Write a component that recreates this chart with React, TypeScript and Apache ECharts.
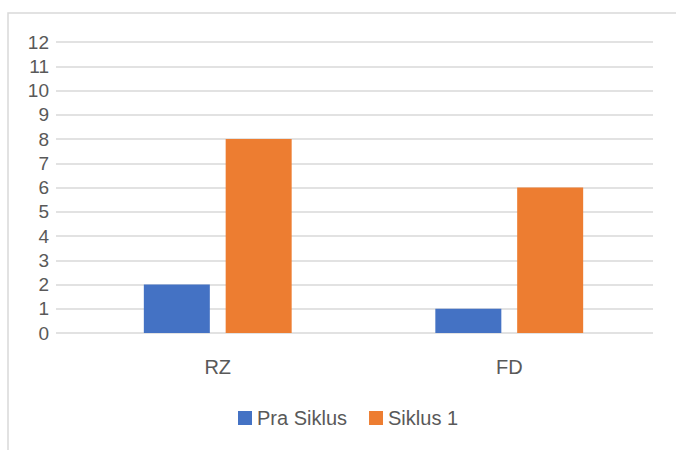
import React, { useEffect, useRef } from "react";
import * as echarts from "echarts";

const categories = ["RZ", "FD"];
const praSiklus = [2, 1];
const siklus1 = [8, 6];
const seriesNames = ["Pra Siklus", "Siklus 1"];
const yTicks = { min: 0, max: 12, interval: 1 };

export default function App() {
  const ref = useRef<HTMLDivElement>(null);
  useEffect(() => {
    if (!ref.current) return;
    const chart = echarts.init(ref.current, null, { renderer: "svg" });
    const font = "Liberation Sans";
    const textColor = "#595959";
    chart.setOption({
      animation: false,
      textStyle: { fontFamily: font },
      graphic: [
        {
          type: "rect",
          shape: { x: 8, y: 13, width: 720, height: 500 },
          style: { fill: "none", stroke: "#D9D9D9", lineWidth: 1.5 },
          z: -1,
        },
      ],
      grid: [
        { left: 56, right: 23, top: 42, bottom: 450 - 333 },
        { left: 72, right: 21, top: 42, bottom: 450 - 333 },
      ],
      legend: {
        data: seriesNames,
        bottom: 17,
        left: 233,
        itemWidth: 14,
        itemHeight: 14,
        itemGap: 22,
        icon: "rect",
        textStyle: { color: textColor, fontSize: 20, fontFamily: font },
      },
      xAxis: [
        { type: "category", gridIndex: 0, data: categories, show: false },
        {
          type: "category",
          gridIndex: 1,
          data: categories,
          axisLine: { show: false },
          axisTick: { show: false },
          axisLabel: { color: textColor, fontSize: 20, margin: 24, fontFamily: font },
        },
      ],
      yAxis: [
        {
          type: "value",
          gridIndex: 0,
          min: yTicks.min,
          max: yTicks.max,
          interval: yTicks.interval,
          axisLine: { show: false },
          axisTick: { show: false },
          axisLabel: { color: textColor, fontSize: 19, margin: 7, fontFamily: font },
          splitLine: { lineStyle: { color: "#D9D9D9", width: 1.5 } },
        },
        {
          type: "value",
          gridIndex: 1,
          min: yTicks.min,
          max: yTicks.max,
          interval: yTicks.interval,
          show: false,
          splitLine: { show: false },
        },
      ],
      series: [
        {
          name: seriesNames[0],
          type: "bar",
          xAxisIndex: 1,
          yAxisIndex: 1,
          data: praSiklus,
          barWidth: 66,
          barGap: "24%",
          itemStyle: { color: "#4472C4" },
        },
        {
          name: seriesNames[1],
          type: "bar",
          xAxisIndex: 1,
          yAxisIndex: 1,
          data: siklus1,
          barWidth: 66,
          barGap: "24%",
          itemStyle: { color: "#ED7D31" },
        },
      ],
    });
    return () => chart.dispose();
  }, []);
  return (
    <div
      ref={ref}
      style={{ position: "fixed", left: 0, top: 0, width: 676, height: 450, background: "#fff" }}
    />
  );
}
